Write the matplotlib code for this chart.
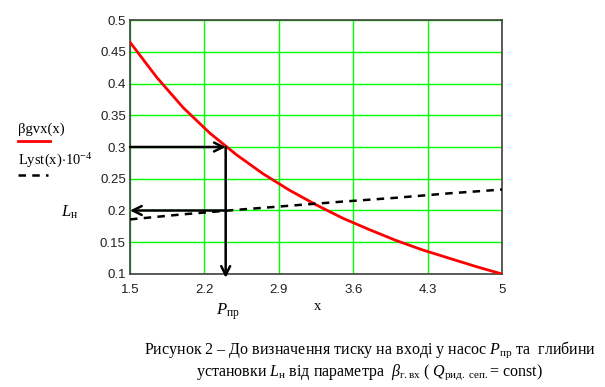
import numpy as np
import matplotlib.pyplot as plt
from matplotlib.lines import Line2D

plt.rcParams['mathtext.fontset'] = 'custom'
plt.rcParams['mathtext.rm'] = 'Liberation Serif'
plt.rcParams['mathtext.it'] = 'Liberation Serif:italic'

# ---- data ----
x_beta = [1.5, 1.75, 2.0, 2.25, 2.5, 2.75, 3.0, 3.25, 3.5, 3.75, 4.0, 4.25, 4.5, 4.75, 5.0]
beta_gvx = [0.465, 0.41, 0.362, 0.322, 0.288, 0.258, 0.232, 0.209, 0.188, 0.170,
            0.153, 0.138, 0.125, 0.112, 0.100]

x_lyst = [1.5, 2.0, 2.5, 3.0, 3.5, 4.0, 4.5, 5.0]
lyst = [0.186, 0.194, 0.201, 0.2075, 0.214, 0.220, 0.227, 0.233]

x_ticks = [1.5, 2.2, 2.9, 3.6, 4.3, 5]
x_tick_labels = ['1.5', '2.2', '2.9', '3.6', '4.3', '5']
y_ticks = [0.1, 0.15, 0.2, 0.25, 0.3, 0.35, 0.4, 0.45, 0.5]
y_tick_labels = ['0.1', '0.15', '0.2', '0.25', '0.3', '0.35', '0.4', '0.45', '0.5']

p_x = 2.4      # reading point on x
beta_read = 0.3
L_read = 0.2

# ---- figure ----
fig = plt.figure(figsize=(6.05, 3.87), dpi=100)
ax = fig.add_axes([0.2149, 0.292, 0.6149, 0.6563])

ax.plot(x_beta, beta_gvx, color='red', lw=2.0, zorder=3)
ax.plot(x_lyst, lyst, color='black', lw=1.8, ls=(0, (3, 2.5)), zorder=3)

ax.set_xlim(1.5, 5)
ax.set_ylim(0.1, 0.5)
ax.set_xticks(x_ticks)
ax.set_xticklabels(x_tick_labels, family='Liberation Sans', fontsize=9.5, color='#202020')
ax.set_yticks(y_ticks)
ax.set_yticklabels(y_tick_labels, family='Liberation Sans', fontsize=9.5, color='#202020')
ax.tick_params(axis='x', length=0, pad=7)
ax.tick_params(axis='y', length=0, pad=3)
ax.grid(True, color='#00ff00', lw=1)
for s in ax.spines.values():
    s.set_color('#404040')
    s.set_linewidth(1.2)

# ---- reading arrows ----
arrow = dict(arrowstyle='->', color='black', lw=1.8, mutation_scale=16,
             shrinkA=0, shrinkB=0)
ax.annotate('', xy=(p_x, beta_read), xytext=(1.5, beta_read), arrowprops=arrow)
ax.annotate('', xy=(p_x, 0.094), xytext=(p_x, beta_read), arrowprops=arrow,
            annotation_clip=False)
ax.annotate('', xy=(1.5, L_read), xytext=(p_x, L_read), arrowprops=arrow)

# ---- legend at left ----
fig.text(18 / 605, 1 - 129 / 387, 'βgvx(x)', family='Liberation Serif',
         fontsize=10.5, va='center')
fig.add_artist(Line2D([18 / 605, 50 / 605], [1 - 141 / 387, 1 - 141 / 387],
                      color='red', lw=2))
fig.text(18 / 605, 1 - 161 / 387, r'Lyst(x)$\cdot$10$^{-4}$', family='Liberation Serif',
         fontsize=10.5, va='center')
fig.add_artist(Line2D([18 / 605, 48 / 605], [1 - 175 / 387, 1 - 175 / 387],
                      color='black', lw=1.8, ls=(0, (3, 2.5))))

fig.text(70 / 605, 1 - 212 / 387, r'$L_{\mathrm{н}}$', fontsize=12, ha='center', va='center')
fig.text(228 / 605, 1 - 312 / 387, r'$P_{\mathrm{пр}}$', fontsize=12, ha='center', va='center')
fig.text(318 / 605, 1 - 307 / 387, 'x', family='Liberation Serif', fontsize=10.5,
         ha='center', va='center')

# ---- caption ----
fig.text(370 / 605, 1 - 350 / 387,
         r'Рисунок 2 – До визначення тиску на вході у насос $P_{\mathrm{пр}}$ та  глибини',
         family='Liberation Serif', fontsize=11.5, ha='center', va='center')
fig.text(369 / 605, 1 - 372 / 387,
         r'установки $L_{\mathrm{н}}$ від параметра  $\beta_{\mathrm{г.вх}}$ ( '
         r'$Q_{\mathrm{рид.\ сеп.}}$= const)',
         family='Liberation Serif', fontsize=11.5, ha='center', va='center')

fig.savefig('out.png', dpi=100)
